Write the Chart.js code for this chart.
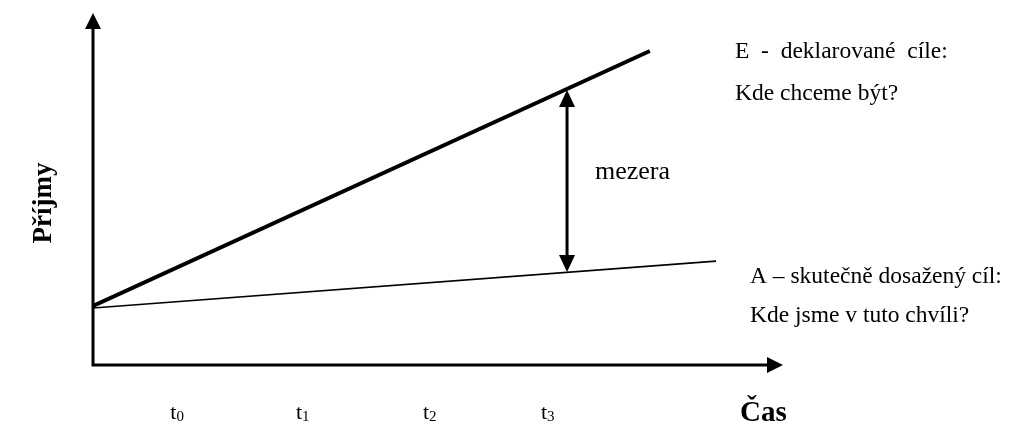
<!DOCTYPE html>
<html>
<head>
<meta charset="utf-8">
<script src="https://cdn.jsdelivr.net/npm/chart.js@4"></script>
<style>
    body { margin: 0; background: #fff; }
    #chart { display: block; }
</style>
</head>
<body>
<canvas id="chart" width="1010" height="426"></canvas>
<script>
// time ticks on the x axis (units 0..100)
const timeLabels = ["0", "1", "2", "3"];
const timeTicks = [12.2, 30.4, 48.8, 65.9];

// E - declared goals (thick line)
const declaredX = [0, 80.7];
const declaredY = [16.8, 89.2];

// A - actually reached (thin line)
const actualX = [0, 90.3];
const actualY = [16.2, 29.5];

// the gap arrow between the two lines
const gapX = 68.7;
const gapTop = 78.1;
const gapBottom = 26.4;

const serif = "'Liberation Serif', 'Times New Roman', serif";

function toPoints(xs, ys) {
    return xs.map((x, i) => ({ x: x, y: ys[i] }));
}

function arrowHead(ctx, x, y, dir, len, half) {
    // dir: "up", "down", "right"
    ctx.beginPath();
    ctx.moveTo(x, y);
    if (dir === "up") {
        ctx.lineTo(x - half, y + len);
        ctx.lineTo(x + half, y + len);
    } else if (dir === "down") {
        ctx.lineTo(x - half, y - len);
        ctx.lineTo(x + half, y - len);
    } else {
        ctx.lineTo(x - len, y - half);
        ctx.lineTo(x - len, y + half);
    }
    ctx.closePath();
    ctx.fill();
}

const decorations = {
    id: "decorations",
    afterDatasetsDraw(chart) {
        const ctx = chart.ctx;
        const area = chart.chartArea;
        const xs = chart.scales.x;
        const ys = chart.scales.y;
        const ox = xs.getPixelForValue(0);
        const oy = ys.getPixelForValue(0);

        ctx.save();
        ctx.fillStyle = "#000";
        ctx.strokeStyle = "#000";

        // axes
        ctx.lineWidth = 3;
        ctx.beginPath();
        ctx.moveTo(ox, area.top + 14);
        ctx.lineTo(ox, oy);
        ctx.lineTo(area.right - 14, oy);
        ctx.stroke();
        arrowHead(ctx, ox, area.top, "up", 16, 8);
        arrowHead(ctx, area.right, oy, "right", 16, 8);

        // gap arrow
        const gx = xs.getPixelForValue(gapX);
        const gt = ys.getPixelForValue(gapTop);
        const gb = ys.getPixelForValue(gapBottom);
        ctx.lineWidth = 3;
        ctx.beginPath();
        ctx.moveTo(gx, gt + 14);
        ctx.lineTo(gx, gb - 14);
        ctx.stroke();
        arrowHead(ctx, gx, gt, "up", 17, 8);
        arrowHead(ctx, gx, gb, "down", 17, 8);

        // texts
        ctx.textBaseline = "alphabetic";
        ctx.textAlign = "left";
        ctx.font = "26px " + serif;
        ctx.fillText("mezera", 595, 179);
        ctx.font = "23.5px " + serif;
        ctx.fillText("E  -  deklarované  cíle:", 735, 58);
        ctx.fillText("Kde chceme být?", 735, 100);
        ctx.fillText("A – skutečně dosažený cíl:", 750, 283);
        ctx.fillText("Kde jsme v tuto chvíli?", 750, 322);

        // tick labels with subscripts
        timeTicks.forEach((v, i) => {
            const px = xs.getPixelForValue(v);
            ctx.font = "22px " + serif;
            const tw = ctx.measureText("t").width;
            ctx.font = "15px " + serif;
            const sw = ctx.measureText(timeLabels[i]).width;
            const left = px - (tw + sw) / 2;
            ctx.font = "22px " + serif;
            ctx.fillText("t", left, 419);
            ctx.font = "15px " + serif;
            ctx.fillText(timeLabels[i], left + tw, 421);
        });

        // axis titles
        ctx.font = "bold 29px " + serif;
        ctx.fillText("Čas", 740, 421);

        ctx.save();
        ctx.translate(51, 203);
        ctx.rotate(-Math.PI / 2);
        ctx.textAlign = "center";
        ctx.font = "bold 27px " + serif;
        ctx.fillText("Příjmy", 0, 0);
        ctx.restore();

        ctx.restore();
    }
};

new Chart(document.getElementById("chart"), {
    type: "line",
    data: {
        datasets: [
            {
                label: "E",
                data: toPoints(declaredX, declaredY),
                borderColor: "#000",
                borderWidth: 4,
                pointRadius: 0,
                fill: false
            },
            {
                label: "A",
                data: toPoints(actualX, actualY),
                borderColor: "#000",
                borderWidth: 1.6,
                pointRadius: 0,
                fill: false
            }
        ]
    },
    options: {
        responsive: false,
        animation: false,
        layout: {
            padding: { left: 93, right: 227, top: 13, bottom: 61 }
        },
        plugins: {
            legend: { display: false },
            tooltip: { enabled: false }
        },
        scales: {
            x: { type: "linear", min: 0, max: 100, display: false },
            y: { type: "linear", min: 0, max: 100, display: false }
        }
    },
    plugins: [decorations]
});
</script>
</body>
</html>
